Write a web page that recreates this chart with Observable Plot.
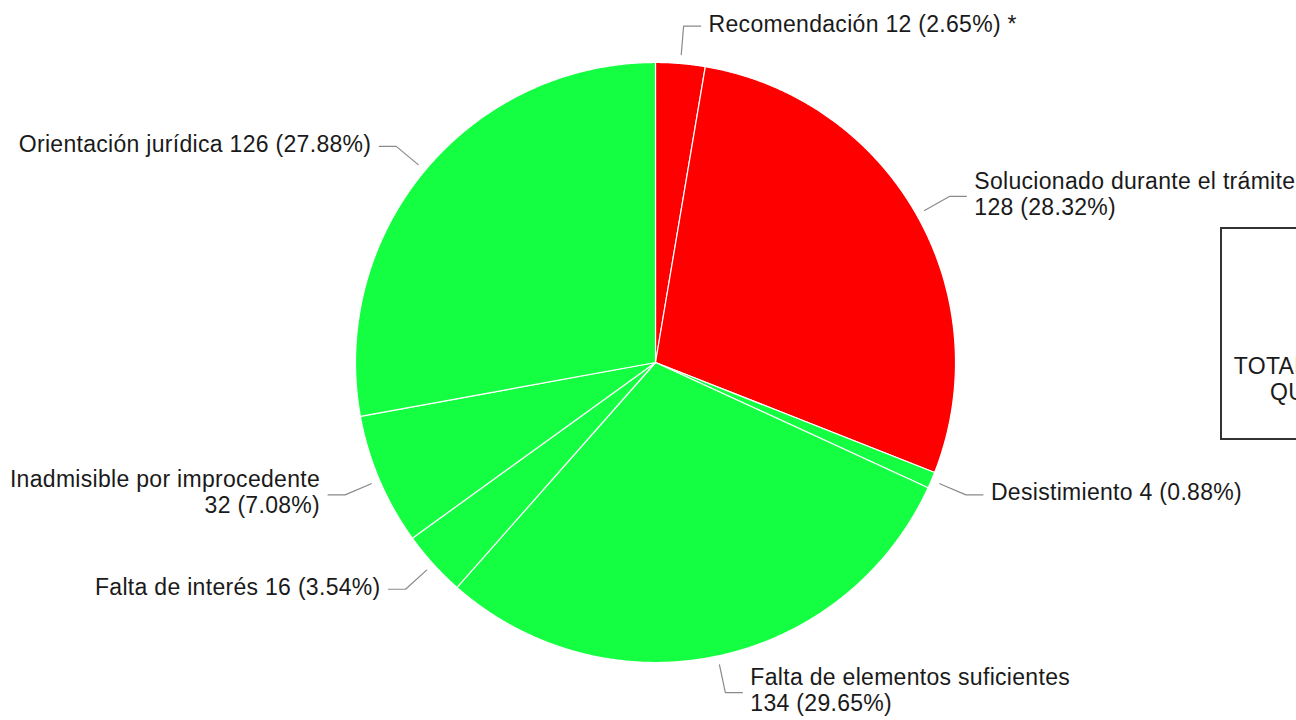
<!DOCTYPE html>
<html>
<head>
<meta charset="utf-8">
<script src="https://cdn.jsdelivr.net/npm/d3@7"></script>
<script src="https://cdn.jsdelivr.net/npm/@observablehq/plot@0.6"></script>
<style>
  html, body { margin: 0; padding: 0; background: #fff; overflow: hidden; }
  #wrap { position: relative; width: 1296px; height: 720px; font-family: "Liberation Sans", Arial, sans-serif; }
  #box { position: absolute; left: 1220px; top: 227px; width: 236px; height: 209px; border: 2px solid #333;
         box-sizing: content-box; text-align: center; font-size: 23px; letter-spacing: 0.3px; line-height: 26px; color: #1a1a1a; }
  #box .inner { padding-top: 124px; }
</style>
</head>
<body>
<div id="wrap"></div>
<script>
// ---- data ----
const names = ["Recomendación", "Solucionado durante el trámite", "Desistimiento", "Falta de elementos suficientes", "Falta de interés", "Inadmisible por improcedente", "Orientación jurídica"];
const values = [12, 128, 4, 134, 16, 32, 126];
const groups = ["rojo", "rojo", "verde", "verde", "verde", "verde", "verde"];
const notes = [" *", "", "", "", "", "", ""];
const wrapped = [false, true, false, true, false, true, false];
const boxLines = ["TOTAL DE QUEJAS", "QUEJAS 452"];

// ---- layout ----
const W = 1296, H = 720, CX = 655, CY = 362, R = 300;
const total = d3.sum(values);
const rad = d => d * Math.PI / 180;
const pt = (a, r) => [r * Math.sin(rad(a)), r * Math.cos(rad(a))];

let acc = 0;
const slices = names.map((n, i) => {
  const a0 = acc / total * 360; acc += values[i]; const a1 = acc / total * 360;
  return {name: n, value: values[i], group: groups[i], a0, a1, mid: (a0 + a1) / 2, i};
});

const polys = slices.flatMap(s => {
  const c = {name: s.name, group: s.group, x: 0, y: 0};
  const pts = [c];
  const n = Math.max(2, Math.ceil((s.a1 - s.a0) / 0.25));
  for (let k = 0; k <= n; k++) {
    const a = s.a0 + (s.a1 - s.a0) * k / n;
    const [x, y] = pt(a, R);
    pts.push({name: s.name, group: s.group, x, y});
  }
  pts.push({...c});
  return pts;
});

const leaders = [];
const labels = [];
slices.forEach(s => {
  const side = Math.sin(rad(s.mid)) >= 0 ? 1 : -1;
  const p0 = pt(s.mid, R * 1.03), p1 = pt(s.mid, R * 1.125);
  const p2 = [p1[0] + side * 17, p1[1]];
  [p0, p1, p2].forEach(p => leaders.push({name: s.name, x: p[0], y: p[1]}));
  const pct = (s.value / total * 100).toFixed(2);
  const txt = wrapped[s.i]
    ? `${s.name}\n${s.value} (${pct}%)${notes[s.i]}`
    : `${s.name} ${s.value} (${pct}%)${notes[s.i]}`;
  labels.push({x: p2[0] + side * 8, y: p1[1], text: txt, anchor: side > 0 ? "start" : "end"});
});

const textOpts = {x: "x", y: "y", text: "text", fontSize: 23, lineHeight: 1.13, fill: "#1a1a1a", dy: -3};

const chart = Plot.plot({
  width: W, height: H, margin: 0,
  x: {domain: [-CX, W - CX], axis: null},
  y: {domain: [-(H - CY), CY], axis: null},
  color: {domain: ["rojo", "verde"], range: ["#ff0000", "#14ff41"]},
  style: {fontFamily: "'Liberation Sans', Arial, sans-serif", background: "#fff", letterSpacing: "0.3px"},
  marks: [
    Plot.line(polys, {x: "x", y: "y", z: "name", fill: "group", stroke: "white", strokeWidth: 1.2, curve: "linear"}),
    Plot.line(leaders, {x: "x", y: "y", z: "name", stroke: "#8a8a8a", strokeWidth: 1.2}),
    Plot.text(labels.filter(d => d.anchor === "start"), {...textOpts, textAnchor: "start"}),
    Plot.text(labels.filter(d => d.anchor === "end"), {...textOpts, textAnchor: "end"})
  ]
});

const wrap = document.getElementById("wrap");
wrap.appendChild(chart);
const box = document.createElement("div");
box.id = "box";
box.innerHTML = `<div class="inner">${boxLines.map(l => `<div>${l}</div>`).join("")}</div>`;
wrap.appendChild(box);
</script>
</body>
</html>
